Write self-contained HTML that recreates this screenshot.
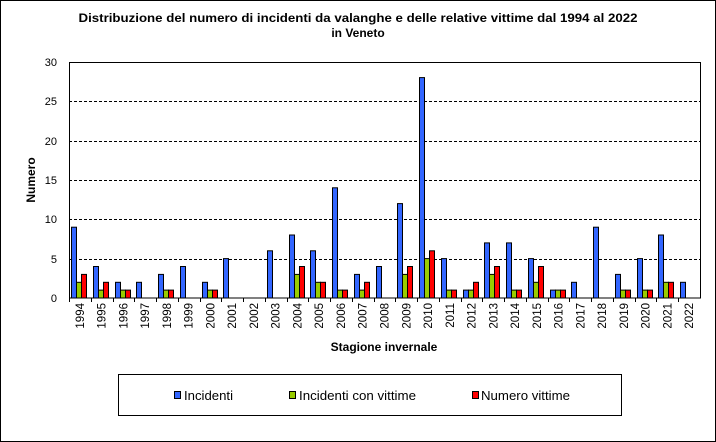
<!DOCTYPE html>
<html><head><meta charset="utf-8"><style>
html,body{margin:0;padding:0;background:#fff}
svg{display:block;font-family:"Liberation Sans",Arial,sans-serif}
</style></head><body>
<svg id="s" width="716" height="442" xmlns="http://www.w3.org/2000/svg">
<rect x="0.5" y="0.5" width="715" height="441" fill="#fff" stroke="#000"/>
<text x="358" y="22" text-anchor="middle" font-size="12" font-weight="bold" textLength="559" lengthAdjust="spacingAndGlyphs">Distribuzione del numero di incidenti da valanghe e delle relative vittime dal 1994 al 2022</text>
<text x="358" y="37" text-anchor="middle" font-size="12" font-weight="bold">in Veneto</text>
<g id="grid" stroke="#000" stroke-dasharray="3,2" stroke-width="1"></g>
<rect x="69.5" y="62.5" width="631" height="235.5" fill="none" stroke="#000"/>
<g font-size="11" text-anchor="end">
<text x="57" y="66">30</text><text x="57" y="105">25</text><text x="57" y="145">20</text><text x="57" y="184">15</text><text x="57" y="223">10</text><text x="57" y="263">5</text><text x="57" y="302">0</text>
</g>
<g id="bars"></g>
<g id="labels" font-size="11.5" text-anchor="end">
<text>1994</text><text>1995</text><text>1996</text><text>1997</text><text>1998</text><text>1999</text><text>2000</text><text>2001</text><text>2002</text><text>2003</text><text>2004</text><text>2005</text><text>2006</text><text>2007</text><text>2008</text><text>2009</text><text>2010</text><text>2011</text><text>2012</text><text>2013</text><text>2014</text><text>2015</text><text>2016</text><text>2017</text><text>2018</text><text>2019</text><text>2020</text><text>2021</text><text>2022</text>
</g>
<text x="384" y="351" text-anchor="middle" font-size="12" font-weight="bold">Stagione invernale</text>
<text transform="translate(35,180) rotate(-90)" text-anchor="middle" font-size="12" font-weight="bold">Numero</text>
<rect x="118.5" y="374.5" width="503" height="41" fill="none" stroke="#000"/>
<rect x="174.5" y="391.5" width="6" height="7" fill="#3366FF" stroke="#000"/>
<text x="184" y="400" font-size="13" textLength="49" lengthAdjust="spacingAndGlyphs">Incidenti</text>
<rect x="289.5" y="391.5" width="6" height="7" fill="#99CC00" stroke="#000"/>
<text x="299" y="400" font-size="13" textLength="117" lengthAdjust="spacingAndGlyphs">Incidenti con vittime</text>
<rect x="472.5" y="391.5" width="6" height="7" fill="#FF0000" stroke="#000"/>
<text x="481" y="400" font-size="13" textLength="89" lengthAdjust="spacingAndGlyphs">Numero vittime</text>
</svg>
<script>
var d=[[9,2,3],[4,1,2],[2,1,1],[2,0,0],[3,1,1],[4,0,0],[2,1,1],[5,0,0],[0,0,0],[6,0,0],[8,3,4],[6,2,2],[14,1,1],[3,1,2],[4,0,0],[12,3,4],[28,5,6],[5,1,1],[1,1,2],[7,3,4],[7,1,1],[5,2,4],[1,1,1],[2,0,0],[9,0,0],[3,1,1],[5,1,1],[8,2,2],[2,0,0]];
var ns="http://www.w3.org/2000/svg",cols=["#3366FF","#99CC00","#FF0000"];
var g=document.getElementById("grid"),b=document.getElementById("bars");
for(var v=5;v<=30;v+=5){var y=Math.round(298-v*7.87)+0.5;var l=document.createElementNS(ns,"line");l.setAttribute("x1",69);l.setAttribute("x2",700);l.setAttribute("y1",y);l.setAttribute("y2",y);g.appendChild(l);}
var cw=631/29;
var labs=document.getElementById("labels").children;
for(var k=0;k<29;k++){var left=69+k*cw;
 for(var s=0;s<3;s++){var v=d[k][s];if(!v)continue;var h=v*7.87;var r=document.createElementNS(ns,"rect");
 r.setAttribute("x",Math.round(left+2+s*5)+0.5);r.setAttribute("y",(298-h).toFixed(1));r.setAttribute("width",5);r.setAttribute("height",h.toFixed(1));r.setAttribute("fill",cols[s]);r.setAttribute("stroke","#000");b.appendChild(r);}
 var t=document.createElementNS(ns,"line");var tx=Math.round(left)+0.5;t.setAttribute("x1",tx);t.setAttribute("x2",tx);t.setAttribute("y1",298);t.setAttribute("y2",302);t.setAttribute("stroke","#000");b.appendChild(t);
 var cx=left+cw/2+4;labs[k].setAttribute("transform","translate("+cx.toFixed(1)+",303) rotate(-90)");}
</script>
</body></html>
